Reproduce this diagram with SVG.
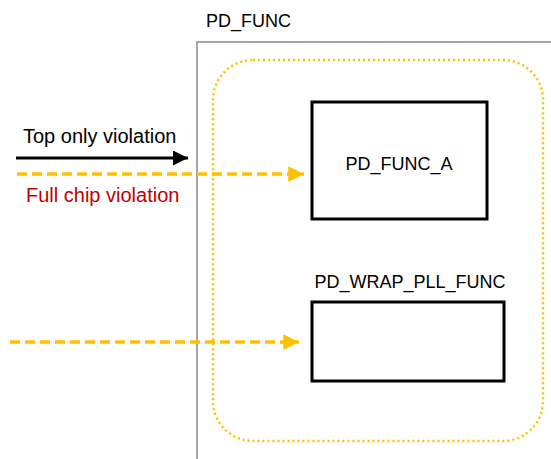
<svg xmlns="http://www.w3.org/2000/svg" width="551" height="459" viewBox="0 0 551 459">
  <defs>
    <style>
      text { font-family: "Liberation Sans", Arial, sans-serif; font-size: 18px; fill: #000; }
      .label { font-size: 20px; }
      .red { fill: #C00000; }
      .block { fill: #fff; stroke: #000; stroke-width: 3; }
      .orange { stroke: #FFC000; stroke-width: 3.5; stroke-dasharray: 10 5; fill: none; }
    </style>
    <marker id="arrBlack" viewBox="0 0 10 10" refX="10" refY="5" markerWidth="5" markerHeight="5" markerUnits="strokeWidth" orient="auto">
      <path d="M0,0 L10,5 L0,10 Z" fill="#000"/>
    </marker>
    <marker id="arrOrange" viewBox="0 0 10 10" refX="10" refY="5" markerWidth="4.5" markerHeight="4.5" markerUnits="strokeWidth" orient="auto">
      <path d="M0,0 L10,5 L0,10 Z" fill="#FFC000"/>
    </marker>
  </defs>

  <rect width="551" height="459" fill="#fff"/>

  <!-- power domain PD_FUNC -->
  <g id="pd_func">
    <rect x="197" y="42" width="370" height="430" fill="none" stroke="#A6A6A6" stroke-width="2"/>
    <text x="206" y="27">PD_FUNC</text>
  </g>

  <!-- dotted boundary -->
  <g id="boundary">
    <rect x="213" y="60" width="330" height="381" rx="40" ry="40" fill="none" stroke="#FFC000" stroke-width="2.5" stroke-dasharray="2 3"/>
  </g>

  <g id="pd_func_a">
    <rect class="block" x="312" y="102" width="175" height="117"/>
    <text x="399" y="170" text-anchor="middle">PD_FUNC_A</text>
  </g>

  <g id="pd_wrap_pll_func">
    <rect class="block" x="312" y="302" width="192" height="79"/>
    <text x="410" y="288" text-anchor="middle">PD_WRAP_PLL_FUNC</text>
  </g>

  <!-- connectors -->
  <g id="connectors">
    <line x1="16" y1="158" x2="188" y2="158" stroke="#000" stroke-width="3" marker-end="url(#arrBlack)"/>
    <line class="orange" x1="17" y1="174" x2="304" y2="174" marker-end="url(#arrOrange)"/>
    <line class="orange" x1="10" y1="342" x2="299" y2="342" marker-end="url(#arrOrange)"/>
  </g>

  <g id="labels">
    <text class="label" x="23" y="143">Top only violation</text>
    <text class="label red" x="26" y="202">Full chip violation</text>
  </g>
</svg>
